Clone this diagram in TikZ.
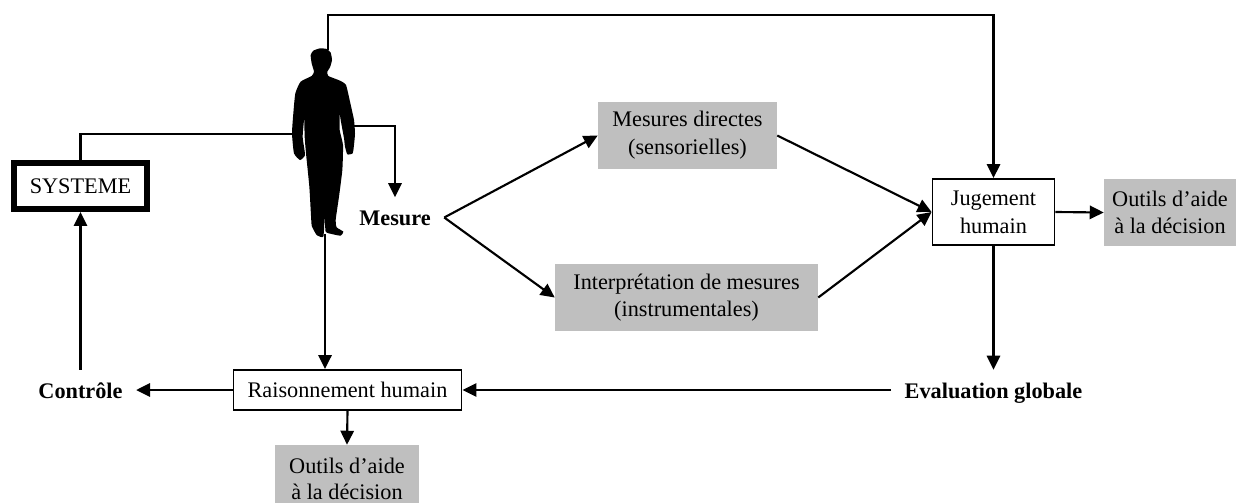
\documentclass[tikz,border=0pt]{standalone}
\usepackage{fontspec}
\setmainfont{Liberation Serif}
\usetikzlibrary{arrows.meta}
\tikzset{
  conn/.style={line width=1.6pt,-{Triangle[length=10.5pt,width=10pt]}},
  plainline/.style={line width=1.6pt},
  txt/.style={font=\fontsize{16.7pt}{20.8pt}\selectfont,align=center,inner sep=0pt},
  greybox/.style={txt,fill=black!25,minimum width=#1*0.75pt},
  whitebox/.style={txt,draw=black,line width=1.4pt,fill=white},
  boldlab/.style={txt,font=\fontsize{16.7pt}{19.8pt}\selectfont\bfseries,inner xsep=10pt,minimum height=30pt,text height=13.5pt,text depth=1pt},
}
\begin{document}
\begin{tikzpicture}[x=0.75pt,y=-0.75pt]
\useasboundingbox (0,0) rectangle (1236,503);
% nodes
\node[txt,draw=black,line width=4.2pt,minimum width=100pt,minimum height=34.7pt] (sys) at (80.5,186) {SYSTEME};
\node[boldlab] (mesure) at (395,217.5) {Mesure};
\node[greybox=179,minimum height=50pt] (direct) at (687.5,135.5) {Mesures directes\\(sensorielles)};
\node[greybox=263,minimum height=50pt] (interp) at (686.5,297.5) {Interprétation de mesures\\(instrumentales)};
\node[whitebox,minimum width=91.5pt,minimum height=49.5pt] (jug) at (993.5,212) {Jugement\\humain};
\node[greybox=132,minimum height=50pt] (outA) at (1170,212.5) {Outils d’aide\\à la décision};
\node[boldlab] (eval) at (993.5,390) {Evaluation globale};
\node[whitebox,minimum width=171pt,minimum height=30pt] (rais) at (347.5,390) {Raisonnement humain};
\node[boldlab] (ctrl) at (80.5,390) {Contrôle};
\node[greybox=144,minimum height=43.5pt,font=\fontsize{16.7pt}{19.5pt}\selectfont] (outB) at (347,474) {\rule{0pt}{19pt}Outils d’aide\\à la décision};
% silhouette
\begin{scope}[shift={(270,30)},x=0.25pt,y=-0.25pt]
\fill[black] plot[smooth cycle,tension=0.3] coordinates {
(150,55)(170,57)(182,68)(186,90)(180,112)(172,125)(175,138)(210,152)(228,165)(240,215)(252,270)(255,310)(252,345)(248,370)(232,373)(225,350)(222,325)(212,270)(209,250)(209,300)(219,345)(217,420)(207,500)(197,570)(200,592)(220,605)(212,617)(185,612)(167,605)(164,560)(160,620)(140,615)(126,590)(124,575)(118,470)(108,370)(104,320)(103,270)(104,250)(98,320)(105,375)(90,390)(72,370)(66,310)(70,250)(76,190)(92,155)(125,138)(132,125)(125,100)(122,75)(130,62)};
\end{scope}
% free ends on the figure
\coordinate (head) at (328,50);
\coordinate (topc) at (328,15);
\coordinate (hipL) at (294,134);
\coordinate (handR) at (354,126);
\coordinate (foot) at (325,234);
% connectors
\draw[conn] (head) |- (topc) -| (jug.north);
\draw[plainline] (sys.north) |- (hipL);
\draw[conn] (handR) -| (mesure.north);
\draw[conn] (foot) -- (foot |- rais.north);
\draw[conn] (mesure.east) -- (direct.west);
\draw[conn] (mesure.east) -- (interp.west);
\draw[conn] (direct.east) -- (jug.west);
\draw[conn] (interp.east) -- (jug.west);
\draw[conn] (jug.east) -- (outA.west);
\draw[conn] (jug.south) -- (eval.north);
\draw[conn] (eval.west) -- (rais.east);
\draw[conn] (rais.west) -- (ctrl.east);
\draw[conn] (ctrl.north) -- (sys.south);
\draw[conn] (rais.south) -- (outB.north);
\end{tikzpicture}
\end{document}
